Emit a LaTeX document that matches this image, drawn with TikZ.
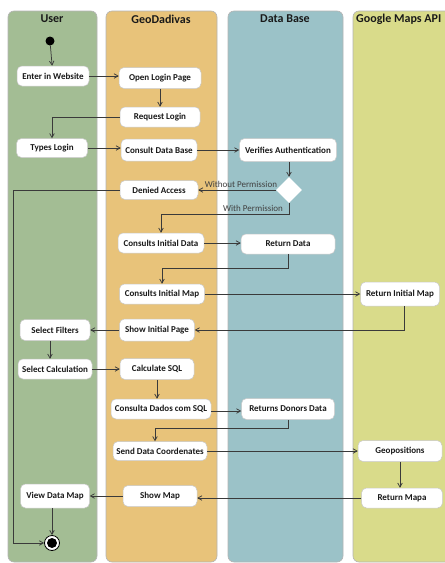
\documentclass[tikz,border=0pt]{standalone}
\usepackage{fontspec}
\setmainfont{Carlito}
\usetikzlibrary{arrows.meta,shapes.geometric}
\definecolor{usergreen}{HTML}{A3BD94}
\definecolor{geoorange}{HTML}{E8C37A}
\definecolor{dbteal}{HTML}{9BC2C8}
\definecolor{mapsyellow}{HTML}{D9DB8A}
\definecolor{lanegray}{HTML}{B4B4B4}
\definecolor{boxgray}{HTML}{C8C8C8}
\definecolor{linegray}{HTML}{3A3A3A}
\begin{document}
\begin{tikzpicture}[x=1pt,y=-1pt,
lane/.style={draw=lanegray,line width=0.6pt,rounded corners=6pt},
title/.style={font=\fontsize{12}{14}\selectfont\bfseries,text=black!90},
act/.style={draw=boxgray,fill=white,rounded corners=5pt,line width=0.5pt,inner sep=0pt,
  font=\fontsize{9}{10}\selectfont\bfseries,text=black!90},
flow/.style={draw=linegray,line width=0.75pt,-{Straight Barb[length=4pt,width=4.5pt]}},
guard/.style={font=\fontsize{9}{10}\selectfont,text=black!75}]
\useasboundingbox (0,0) rectangle (445,563);
\clip (0,0) rectangle (445,563);
% swimlanes
\fill[white] (0,0) rectangle (445,563);
\filldraw[lane,fill=usergreen] (8,11) rectangle (97,562);
\filldraw[lane,fill=geoorange] (106,11) rectangle (217,562);
\filldraw[lane,fill=dbteal] (228,11) rectangle (343,562);
\filldraw[lane,fill=mapsyellow] (353,11) rectangle (470,562);
\node[title] at (52,19) {User};
\node[title] at (161,19) {GeoDadivas};
\node[title] at (285,19) {Data Base};
\node[title,anchor=west,inner xsep=0pt] at (356,19) {Google Maps API};
% activities
\node (start) [circle,fill=black,minimum size=9,inner sep=0pt] at (50,41) {};
\node (enter) [act,minimum width=72,minimum height=20] at (53,76) {Enter in Website};
\node (openlogin) [act,minimum width=82,minimum height=21] at (160,78) {Open Login Page};
\node (reqlogin) [act,minimum width=80,minimum height=20] at (160,117) {Request Login};
\node (typeslogin) [act,minimum width=71,minimum height=19] at (52,148) {Types Login};
\node (consultdb) [act,minimum width=76,minimum height=22] at (159,150) {Consult Data Base};
\node (verifies) [act,minimum width=97,minimum height=23] at (288,150) {Verifies Authentication};
\node (decide) [diamond,fill=white,minimum width=26,minimum height=26,inner sep=0pt] at (289,190) {};
\node (denied) [act,minimum width=78,minimum height=19] at (159,190) {Denied Access};
\node (consdata) [act,minimum width=86,minimum height=20] at (161,243) {Consults Initial Data};
\node (retdata) [act,minimum width=94,minimum height=20] at (288,244) {Return Data};
\node (consmap) [act,minimum width=85,minimum height=20] at (162,294) {Consults Initial Map};
\node (retinitmap) [act,minimum width=79,minimum height=24] at (400,294) {Return Initial Map};
\node (showinit) [act,minimum width=75,minimum height=22] at (157,330) {Show Initial Page};
\node (filters) [act,minimum width=70,minimum height=21] at (55,330) {Select Filters};
\node (calc) [act,minimum width=74,minimum height=20] at (55,369) {Select Calculation};
\node (calcsql) [act,minimum width=74,minimum height=21] at (157,369) {Calculate SQL};
\node (dadossql) [act,minimum width=100,minimum height=20] at (161,409) {Consulta Dados com SQL};
\node (retdonors) [act,minimum width=93,minimum height=21] at (288,409) {Returns Donors Data};
\node (senddata) [act,minimum width=94,minimum height=19] at (160,451) {Send Data Coordenates};
\node (geopos) [act,minimum width=84,minimum height=21] at (400,451) {Geopositions};
\node (retmapa) [act,minimum width=81,minimum height=20] at (402,498) {Return Mapa};
\node (showmap) [act,minimum width=74,minimum height=21] at (160,496) {Show Map};
\node (viewmap) [act,minimum width=69,minimum height=24] at (55,496) {View Data Map};
\node (finish) [circle,draw=black,line width=0.8pt,fill=white,minimum size=15,inner sep=0pt] at (52,543) {};
\fill[black] (finish) circle (5);
\coordinate (leftrail) at (13,190);
% flows
\draw[flow] (start) -- (enter);
\draw[flow] (enter.east) -- (enter.east -| openlogin.west);
\draw[flow] (openlogin) -- (reqlogin);
\draw[flow] (reqlogin.west) -| (typeslogin.north);
\draw[flow] (typeslogin.east) -- (typeslogin.east -| consultdb.west);
\draw[flow] (consultdb.east) -- (consultdb.east -| verifies.west);
\draw[flow] (verifies.south -| decide.north) -- (decide.north);
\draw[flow] (decide.west) -- (denied.east) node[guard,pos=0.45,above=-1pt] {Without Permission};
\draw[flow] (decide.south) -- ++(0,11) coordinate (okturn) -| (consdata.north);
\node[guard,above=-1pt] at ([xshift=-36pt]okturn) {With Permission};
\draw[flow] (consdata.east) -- (consdata.east -| retdata.west);
\draw[flow] (retdata.south) -- ++(0,14) -| (consmap.north);
\draw[flow] (consmap.east) -- (consmap.east -| retinitmap.west);
\draw[flow] ([xshift=4pt]retinitmap.south) |- (showinit.east);
\draw[flow] (showinit.west) -- (showinit.west -| filters.east);
\draw[flow] ([xshift=-5pt]filters.south) -- ([xshift=-5pt]calc.north);
\draw[flow] (calc.east) -- (calc.east -| calcsql.west);
\draw[flow] (calcsql) -- (calcsql |- dadossql.north);
\draw[flow] ([yshift=-2pt]dadossql.east) -- ([yshift=-2pt]dadossql.east -| retdonors.west);
\draw[flow] (retdonors.south) -- ++(0,9) -| ([xshift=-5pt]senddata.north);
\draw[flow] (senddata.east) -- (senddata.east -| geopos.west);
\draw[flow] (geopos) -- (geopos |- retmapa.north);
\draw[flow] (retmapa.west) -- (retmapa.west -| showmap.east);
\draw[flow] (showmap.west) -- (showmap.west -| viewmap.east);
\draw[flow] (viewmap.south -| finish.north) -- (finish.north);
\draw[flow] (denied.west) -- (leftrail) |- (finish.west);
\end{tikzpicture}
\end{document}
